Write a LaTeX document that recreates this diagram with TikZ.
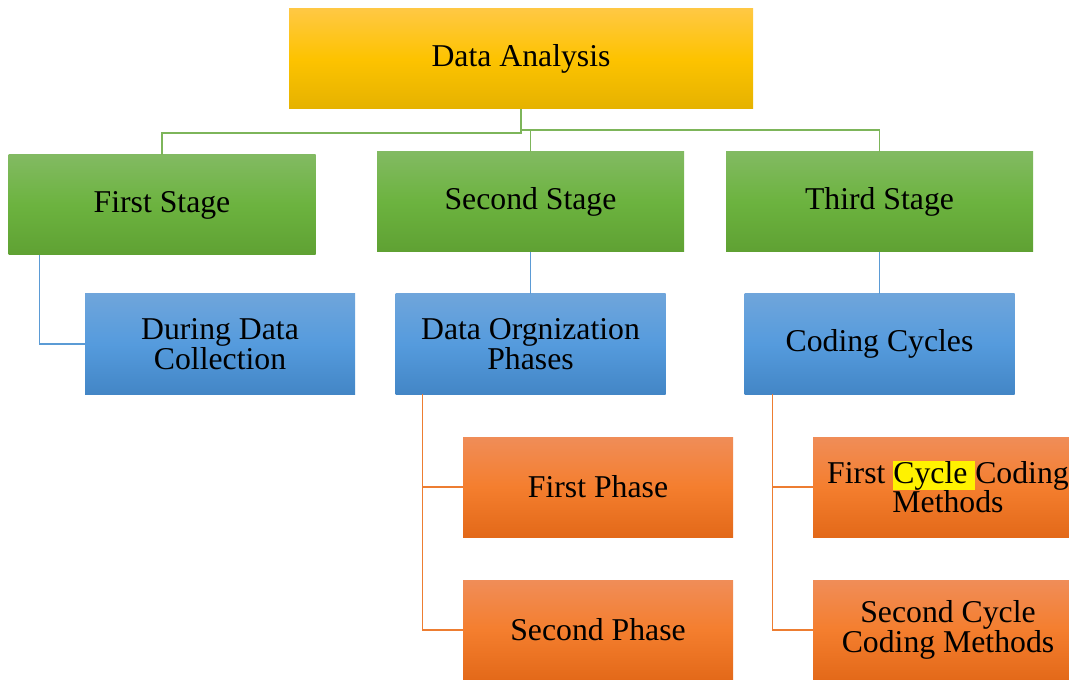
\documentclass[tikz,border=0pt]{standalone}
\usepackage{fontspec}
\setmainfont{Liberation Serif}
\usetikzlibrary{positioning}

\definecolor{goldT}{HTML}{FFC843}
\definecolor{goldM}{HTML}{FDC300}
\definecolor{goldB}{HTML}{E5B200}
\definecolor{greenT}{HTML}{82BA62}
\definecolor{greenM}{HTML}{6CB33F}
\definecolor{greenB}{HTML}{5FA133}
\definecolor{blueT}{HTML}{6FA5DB}
\definecolor{blueM}{HTML}{559BDD}
\definecolor{blueB}{HTML}{4386C6}
\definecolor{orangeT}{HTML}{F08D58}
\definecolor{orangeM}{HTML}{F47E2E}
\definecolor{orangeB}{HTML}{E36919}
\definecolor{gline}{HTML}{7DB55A}
\definecolor{bline}{HTML}{5B9BD5}
\definecolor{oline}{HTML}{ED7D31}

\begin{document}
\begin{tikzpicture}[x=0.75pt,y=-0.75pt,
  every node/.style={font=\fontsize{23.8}{22}\selectfont,align=center,inner sep=0pt},
  rootbox/.style={minimum width=348pt,minimum height=75pt,
    top color=goldT,bottom color=goldB,middle color=goldM},
  stagebox/.style={minimum width=230.25pt,minimum height=75pt,
    top color=greenT,bottom color=greenB,middle color=greenM},
  subbox/.style={minimum width=202.5pt,minimum height=75pt,
    top color=blueT,bottom color=blueB,middle color=blueM},
  leafbox/.style={minimum width=202.5pt,minimum height=75pt,
    top color=orangeT,bottom color=orangeB,middle color=orangeM},
  glink/.style={draw=gline,line width=0.9pt},
  blink/.style={draw=bline,line width=0.9pt},
  olink/.style={draw=oline,line width=0.9pt}]
\clip (0,0) rectangle (1069,680);

\node[rootbox] (root) at (521,59) {Data Analysis};

\node[stagebox] (st1) at (162,205) {First Stage};
\node[stagebox] (st2) at (530.5,202) {Second Stage};
\node[stagebox] (st3) at (879.5,202) {Third Stage};

\node[subbox] (during) at (220,344) {During Data\\Collection};
\node[subbox] (orga) at (530.5,344) {Data Orgnization\\Phases};
\node[subbox] (cycles) at (879.5,344) {Coding Cycles};

\node[leafbox] (ph1) at (598,487) {First Phase};
\node[leafbox] (ph2) at (598,630) {Second Phase};
\node[leafbox] (cyc1) at (948,487)
  {First {\setlength\fboxsep{0pt}\colorbox{yellow}{Cycle\ }}Coding\\Methods};
\node[leafbox] (cyc2) at (948,630) {Second Cycle\\Coding Methods};

% stage links
\draw[glink] (root.south) -- (root.south |- 0,133) -| (st1.north);
\draw[glink] (root.south |- 0,130) -| (st3.north);
\draw[glink] (st2.north |- 0,130) -- (st2.north);

% second level
\draw[blink] ([xshift=23.25pt]st1.south west) |- (during.west);
\draw[blink] (st2.south) -- (orga.north);
\draw[blink] (st3.south) -- (cycles.north);

% third level
\draw[olink] ([xshift=20.25pt]orga.south west) |- (ph1.west);
\draw[olink] ([xshift=20.25pt]orga.south west) |- (ph2.west);
\draw[olink] ([xshift=21pt]cycles.south west) |- (cyc1.west);
\draw[olink] ([xshift=21pt]cycles.south west) |- (cyc2.west);
\end{tikzpicture}
\end{document}
